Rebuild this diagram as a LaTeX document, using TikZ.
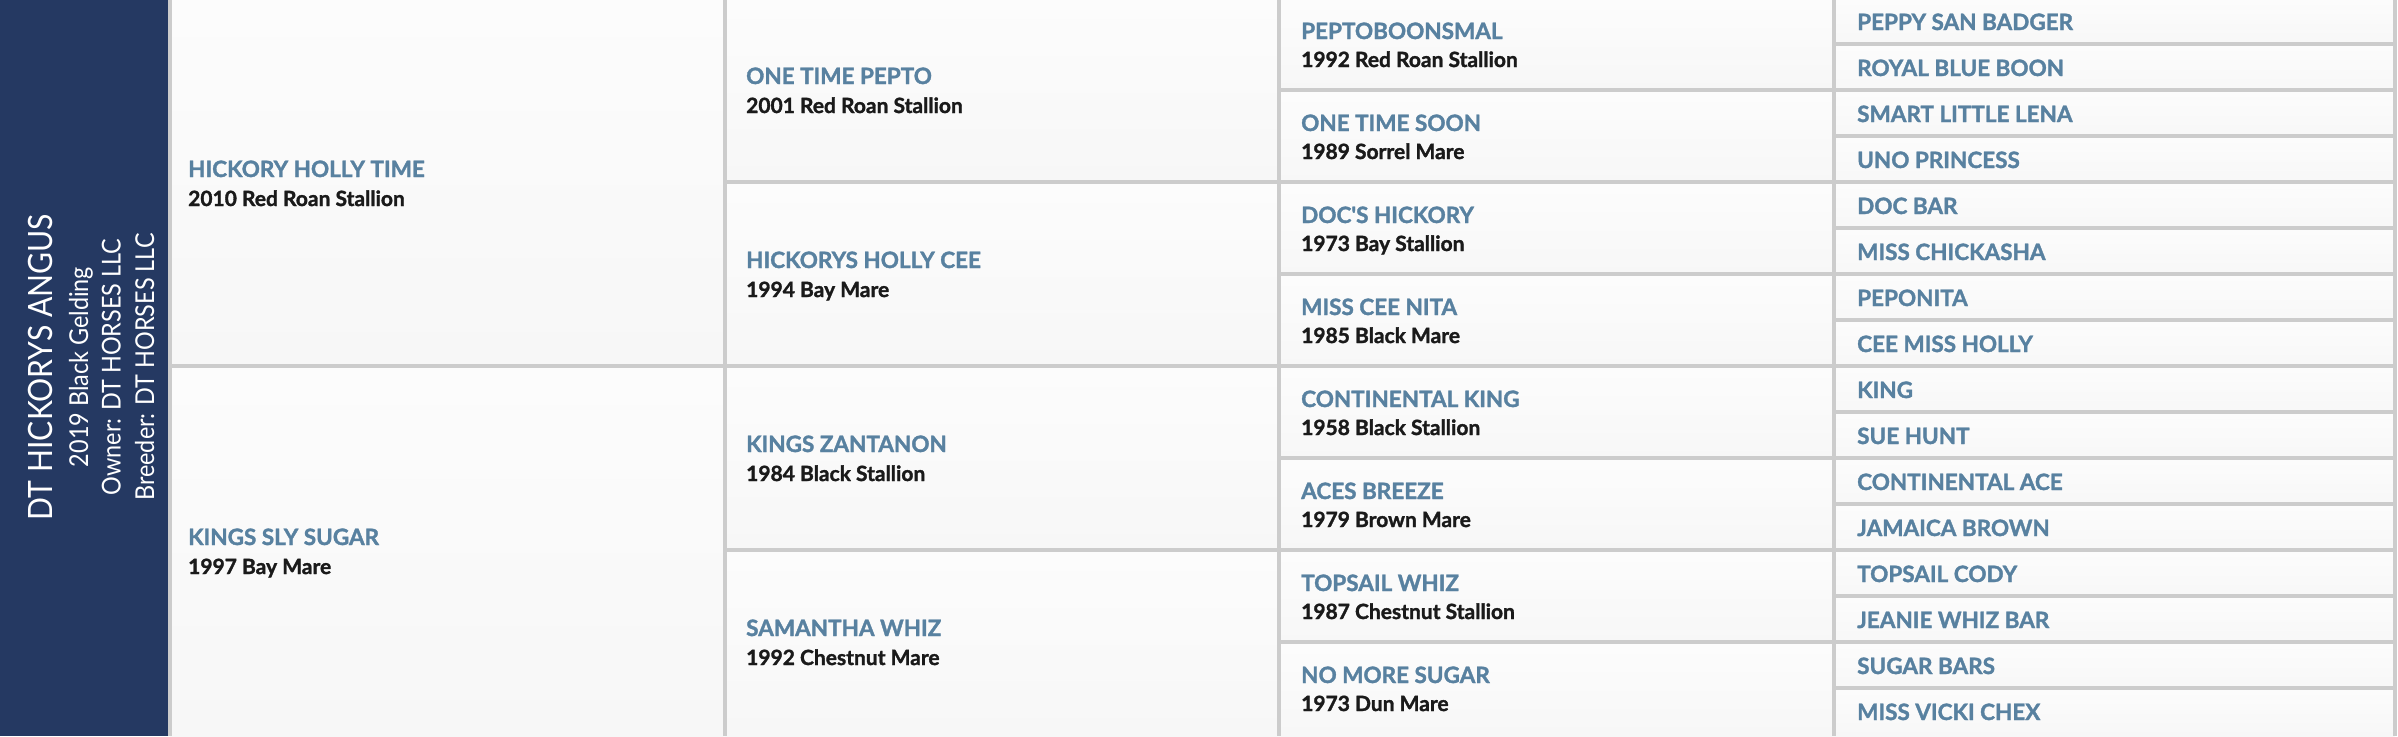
\documentclass[tikz,border=0pt]{standalone}
\usepackage{fontspec}
\setmainfont{Lato}
\newfontfamily\barfont{Lato}[FakeStretch=0.9]
\newfontfamily\namefont{Lato}[BoldFeatures={FakeBold=1.5}]
\definecolor{barbg}{HTML}{253962}
\definecolor{nm}{HTML}{5881A0}
\definecolor{subc}{HTML}{1A1A1A}
\definecolor{gridc}{HTML}{CCCCCC}
\definecolor{celltop}{HTML}{FCFCFC}
\definecolor{cellbot}{HTML}{F7F7F7}
\begin{document}
\begin{tikzpicture}[x=1pt,y=-1pt,
  namestyle/.style={anchor=base west, inner sep=0pt, text=nm, font=\namefont\fontsize{22.5}{22.5}\selectfont\bfseries},
  substyle/.style={anchor=base west, inner sep=0pt, text=subc, font=\namefont\fontsize{21}{21}\selectfont\bfseries},
  bartitle/.style={rotate=90, anchor=base, inner sep=0pt, text=white, font=\barfont\fontsize{33.5}{33.5}\selectfont},
  barline/.style={rotate=90, anchor=base, inner sep=0pt, text=white, font=\barfont\fontsize{26}{26}\selectfont},
  cellfill/.style={top color=celltop, bottom color=cellbot},
  gridline/.style={draw=gridc, line width=4pt}
]
\useasboundingbox (0,0) rectangle (2398,736);
\fill[white] (0,0) rectangle (2398,736);
% cell backgrounds, one per cell
\foreach \k in {0,1} { \shade[cellfill] (170,{368*\k}) rectangle (724.5,{368*\k+368}); }
\foreach \k in {0,...,3} { \shade[cellfill] (724.5,{184*\k}) rectangle (1279,{184*\k+184}); }
\foreach \k in {0,...,7} { \shade[cellfill] (1279,{92*\k}) rectangle (1834,{92*\k+92}); }
\foreach \k in {0,...,15} { \shade[cellfill] (1834,{46*\k}) rectangle (2394.5,{46*\k+46}); }
% dark bar
\fill[barbg] (0,0) rectangle (168,736);
% grid lines
\foreach \xx in {170,724.5,1279,1834,2394.5} {
  \draw[gridline] (\xx,0) -- (\xx,736);
}
\draw[gridline] (170,366) -- (2394.5,366);
\foreach \yy in {182,550} { \draw[gridline] (724.5,\yy) -- (2394.5,\yy); }
\foreach \yy in {90,274,458,642} { \draw[gridline] (1279,\yy) -- (2394.5,\yy); }
\foreach \k in {1,3,...,15} { \draw[gridline] (1834,{46*\k-2}) -- (2394.5,{46*\k-2}); }
% bar text
\node[bartitle] (title) at (52.7,367) {DT HICKORYS ANGUS};
\node[barline] (born) at (88,367) {2019 Black Gelding};
\node[barline] (owner) at (120.7,367) {Owner: DT HORSES LLC};
\node[barline] (breeder) at (154,367) {Breeder: DT HORSES LLC};
% generation 1
\foreach \n/\s [count=\i from 0] in {HICKORY HOLLY TIME/2010 Red Roan Stallion, KINGS SLY SUGAR/1997 Bay Mare} {
  \node[namestyle] (g1n\i) at (188,{368*\i+184-7}) {\n};
  \node[substyle] (g1s\i) at (188,{368*\i+184+22}) {\s};
}
% generation 2
\foreach \n/\s [count=\i from 0] in {ONE TIME PEPTO/2001 Red Roan Stallion, HICKORYS HOLLY CEE/1994 Bay Mare, KINGS ZANTANON/1984 Black Stallion, SAMANTHA WHIZ/1992 Chestnut Mare} {
  \node[namestyle] (g2n\i) at (746,{184*\i+92-8}) {\n};
  \node[substyle] (g2s\i) at (746,{184*\i+92+21}) {\s};
}
% generation 3
\foreach \n/\s [count=\i from 0] in {PEPTOBOONSMAL/1992 Red Roan Stallion, ONE TIME SOON/1989 Sorrel Mare, DOC'S HICKORY/1973 Bay Stallion, MISS CEE NITA/1985 Black Mare, CONTINENTAL KING/1958 Black Stallion, ACES BREEZE/1979 Brown Mare, TOPSAIL WHIZ/1987 Chestnut Stallion, NO MORE SUGAR/1973 Dun Mare} {
  \node[namestyle] (g3n\i) at (1301,{92*\i+46-7}) {\n};
  \node[substyle] (g3s\i) at (1301,{92*\i+46+21}) {\s};
}
% generation 4
\foreach \n [count=\i from 0] in {PEPPY SAN BADGER, ROYAL BLUE BOON, SMART LITTLE LENA, UNO PRINCESS, DOC BAR, MISS CHICKASHA, PEPONITA, CEE MISS HOLLY, KING, SUE HUNT, CONTINENTAL ACE, JAMAICA BROWN, TOPSAIL CODY, JEANIE WHIZ BAR, SUGAR BARS, MISS VICKI CHEX} {
  \node[namestyle] (g4n\i) at (1857,{46*\i+30}) {\n};
}
\end{tikzpicture}
\end{document}
